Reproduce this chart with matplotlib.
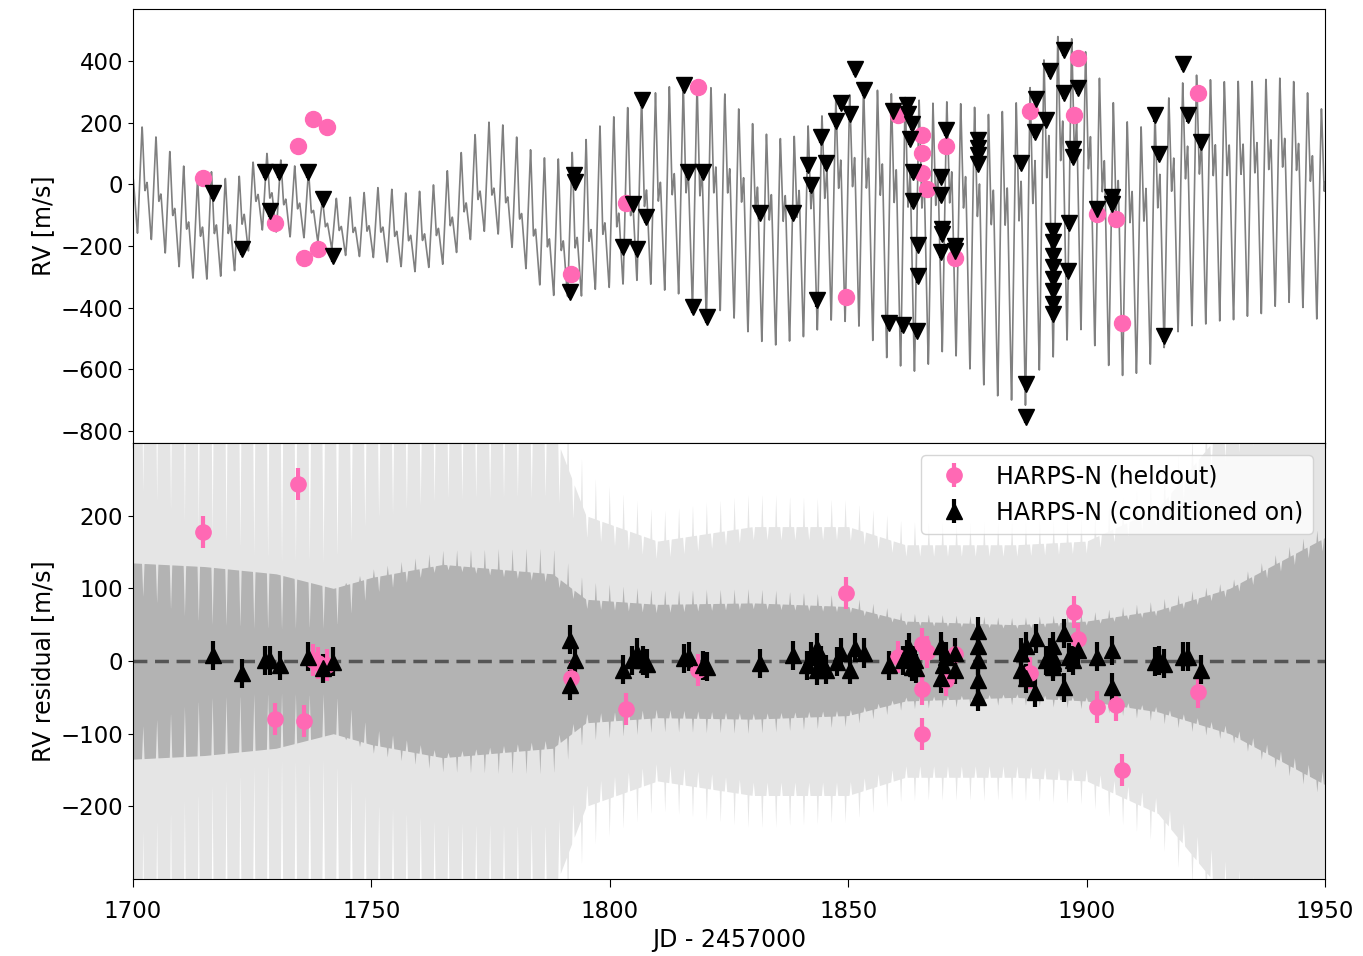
import numpy as np
import matplotlib.pyplot as plt

plt.rcParams['font.size'] = 16.5
plt.rcParams['axes.labelsize'] = 17

# ---- model curve ----
period = 2.910
t_peak0 = 1701.9

peak_t = [1702.0, 1704.8, 1707.8, 1710.5, 1713.4, 1716.5, 1719.3, 1722.0, 1725.0, 1727.9, 1730.8,
          1733.8, 1736.7, 1739.6, 1742.6, 1745.5, 1748.4, 1751.3, 1754.2, 1757.1, 1760.0, 1763.0,
          1766.0, 1769.0, 1772.0, 1774.9, 1777.6, 1780.5, 1783.7, 1786.4, 1789.4, 1792.3, 1795.0,
          1798.0, 1801.0, 1804.0, 1806.8, 1810.0, 1812.6, 1815.6, 1818.5, 1821.4, 1824.2, 1827.1,
          1830.0, 1833.0, 1835.7, 1838.6, 1841.6, 1844.5, 1847.4, 1850.3, 1853.2, 1856.2, 1859.1,
          1862.0, 1864.9, 1867.8, 1870.7, 1873.6, 1876.5, 1879.4, 1882.3, 1885.2, 1888.1, 1890.9,
          1893.8, 1896.7, 1899.7, 1902.6, 1905.5, 1908.4, 1911.3, 1914.2, 1917.2, 1920.1, 1923.0,
          1925.9, 1928.8, 1931.7, 1934.6, 1937.5, 1940.4, 1943.3, 1946.3, 1949.2]
peak_rv = [197, 165, 116, 72, 24, 52, 29, 31, 78, 110, 88,
           68, 50, -45, -40, -36, -20, -3, -8, -20, -15, 7,
           55, 117, 178, 217, 205, 166, 121, 100, 97, 121, 162,
           208, 240, 270, 300, 319, 338, 345, 338, 335, 312, 263,
           214, 179, 166, 172, 208, 240, 295, 310, 330, 328, 316,
           305, 296, 285, 290, 283, 273, 250, 260, 290, 338, 426,
           507, 500, 458, 370, 290, 225, 205, 245, 300, 350, 376,
           360, 354, 354, 354, 360, 364, 355, 316, 263]

trough_t = [1701.0, 1704.0, 1707.0, 1710.0, 1712.6, 1715.5, 1718.5, 1721.4, 1724.0, 1725.8, 1728.7,
            1731.7, 1734.6, 1737.5, 1740.0, 1744.9, 1750.0, 1756.4, 1759.4, 1762.0, 1765.0, 1768.0,
            1771.0, 1774.0, 1777.0, 1779.7, 1782.6, 1785.6, 1788.5, 1794.4, 1797.0, 1800.0, 1806.0,
            1809.0, 1811.8, 1814.5, 1817.5, 1820.4, 1823.3, 1826.0, 1829.0, 1832.0, 1834.9, 1838.0,
            1840.7, 1843.6, 1846.6, 1849.5, 1852.3, 1855.2, 1858.2, 1861.0, 1864.0, 1867.0, 1870.0,
            1872.8, 1875.8, 1878.5, 1881.4, 1884.4, 1887.3, 1890.0, 1893.0, 1896.0, 1898.8, 1901.8,
            1904.7, 1907.6, 1910.5, 1913.5, 1916.4, 1919.2, 1922.0, 1925.0, 1928.0, 1931.0, 1933.8,
            1936.7, 1939.5, 1942.4, 1945.4, 1948.4]
trough_rv = [-166, -188, -234, -280, -312, -315, -305, -286, -230, -156, -150,
             -172, -180, -175, -200, -237, -240, -273, -290, -275, -265, -225,
             -182, -156, -170, -215, -286, -340, -372, -372, -350, -345, -323,
             -340, -361, -372, -420, -458, -426, -452, -497, -530, -540, -525,
             -513, -490, -458, -465, -481, -530, -588, -614, -631, -605, -562,
             -580, -627, -676, -712, -728, -745, -631, -588, -530, -497, -549,
             -614, -644, -635, -605, -549, -500, -481, -475, -465, -460, -449,
             -440, -416, -403, -419, -458]

# height of the shoulder after each peak (fraction of peak-to-trough)
shoulder_t = [1700, 1740, 1775, 1800, 1815, 1830, 1950]
shoulder_lvl = [0.52, 0.50, 0.41, 0.40, 0.60, 0.72, 0.74]

# residual bands: half widths of inner / outer band, depth of the notches and spikes
band_t = [1700, 1715, 1730, 1742, 1750, 1765, 1788, 1795, 1810, 1830, 1850, 1862, 1885, 1900, 1915, 1930, 1950]
band_inner = [135, 130, 120, 100, 115, 133, 120, 85, 78, 80, 75, 55, 50, 55, 70, 100, 170]
band_outer = [400, 380, 330, 300, 320, 340, 320, 200, 165, 185, 185, 160, 160, 165, 210, 330, 420]
notch_inner = [0.30, 0.62, 0.65, 0.55, 0.20, 0.05, 0.10, 0.15, 0.15, 0.10, 0.10, 0.10, 0.10, 0.10, 0.10, 0.10, 0.10]
notch_outer = [0.40, 0.55, 0.60, 0.55, 0.40, 0.35, 0.30, 0.15, 0.15, 0.10, 0.10, 0.10, 0.10, 0.10, 0.10, 0.15, 0.20]
band_spike = [0.0, 0.0, 0.0, 0.0, 0.10, 0.15, 0.30, 0.30, 0.25, 0.25, 0.20, 0.20, 0.20, 0.20, 0.20, 0.10, 0.10]

# ---- HARPS-N held out points ----
t_held = [1714.7, 1729.8, 1734.7, 1735.8, 1737.8, 1738.8, 1740.7, 1791.8, 1803.5, 1818.6,
          1849.5, 1860.4, 1865.4, 1865.4, 1865.5, 1866.5, 1870.5, 1872.4,
          1888.2, 1897.4, 1898.3, 1902.2, 1906.2, 1907.4, 1923.3]
rv_held = [22, -125, 124, -240, 213, -209, 188, -292, -60, 318,
           -366, 226, 162, 103, 37, -14, 125, -240,
           238, 224, 412, -95, -112, -451, 298]
res_held = [177, -80, 244, -83, 2, -3, -6, -23, -66, -12,
            94, 6, -38, -100, 24, 13, -26, 10,
            -17, 67, 30, -63, -61, -150, -43]
err_held = 22

# ---- HARPS-N conditioned on (top panel) ----
t_cond = [1716.8, 1722.8, 1727.7, 1730.7, 1728.7, 1736.6, 1739.8, 1741.9,
          1792.5, 1792.7, 1791.7, 1802.7, 1804.8, 1805.6, 1807.6, 1806.8, 1815.6, 1816.5, 1819.5,
          1817.5, 1820.4, 1831.4, 1838.4, 1841.5, 1842.3, 1844.4, 1845.4, 1843.5, 1847.4, 1848.5,
          1850.4, 1851.4, 1853.4, 1858.6, 1861.4, 1864.4, 1859.5, 1862.3, 1862.5, 1863.3, 1863.0,
          1863.5, 1863.5, 1864.6, 1864.6, 1869.4, 1869.4, 1870.6, 1869.6, 1869.6, 1869.4, 1872.4,
          1872.4, 1877.3, 1877.3, 1877.3, 1877.3, 1886.2, 1887.2, 1887.2, 1889.4, 1889.2, 1891.5,
          1892.3, 1895.3, 1895.3, 1898.3, 1897.2, 1897.2, 1896.4, 1896.2,
          1893.0, 1893.0, 1893.0, 1893.0, 1893.0, 1893.0, 1893.0, 1893.0,
          1902.1, 1905.3, 1905.3, 1914.4, 1915.2, 1916.2, 1920.2, 1921.2, 1924.1]
rv_cond = [-27, -209, 40, 40, -87, 40, -47, -231,
           30, 8, -350, -204, -65, -209, -106, 275, 324, 40, 42,
           -397, -431, -92, -92, 62, -3, 154, 69, -377, 206, 265,
           228, 376, 308, -451, -458, -475, 240, 257, 230, 197, 149,
           40, -54, -196, -299, 24, -33, 176, -144, -160, -220, -201,
           -215, 143, 120, 95, 67, 69, -648, -756, 276, 170, 210,
           370, 438, 297, 313, 116, 89, -126, -282,
           -150, -188, -231, -269, -307, -345, -388, -420,
           -79, -41, -63, 224, 100, -491, 392, 224, 137]

# ---- residuals of the conditioned-on points (bottom panel) ----
t_cond_res = [1716.8, 1722.8, 1727.7, 1728.7, 1730.8, 1736.6, 1739.8, 1741.9,
              1791.7, 1792.7, 1791.7, 1802.7, 1804.6, 1805.8, 1807.0, 1807.7, 1815.6, 1816.7,
              1819.5, 1820.4, 1831.4, 1838.4, 1841.3, 1842.3, 1843.5, 1843.5, 1844.4, 1845.4,
              1847.6, 1848.5, 1850.4, 1851.4, 1853.4, 1858.6, 1861.4, 1862.3, 1862.8, 1863.3,
              1864.0, 1864.2, 1869.4, 1869.4, 1870.6, 1869.8, 1872.4, 1872.4,
              1877.3, 1877.3, 1877.3, 1877.3, 1877.3, 1886.2, 1886.2, 1887.2, 1887.2, 1889.4,
              1889.2, 1891.5, 1892.3, 1893.0, 1893.0, 1893.0, 1893.0, 1893.0, 1895.3, 1895.3,
              1896.4, 1897.2, 1898.3, 1902.2, 1905.3, 1905.3, 1914.4, 1915.2, 1916.2, 1920.2,
              1921.2, 1924.1]
res_cond = [8, -17, 1, 1, -6, 6, -10, -1,
            29, 1, -33, -12, 1, 11, 1, -4, 4, 6,
            -6, -8, -3, 8, -6, 6, 18, -13, 1, -12,
            -1, 11, -12, 18, 11, -6, 1, 9, 18, -8,
            1, -10, 20, -24, 6, -5, 11, -12,
            41, 20, 1, -26, -49, 11, -12, 20, -24, 31,
            -43, 1, 11, 20, -8, 0, 5, -3, 38, -36,
            5, 1, 15, 6, 15, -36, -1, 1, -4, 6,
            6, -12]
err_cond = 20

pink = '#ff69b4'

# build the model curve
grid = np.linspace(1700, 1950, 10001)
ph_fine = np.linspace(0, 1, 2000, endpoint=False)
knot_ph = [0.0, 0.2, 0.36, 0.67, 1.0]
base_shape = np.interp(ph_fine, knot_ph, [1, 0, 0, 0, 1])
shoulder_shape = np.interp(ph_fine, knot_ph, [0, 0.8, 1, 0, 0])
# light circular smoothing of the shape
k = np.exp(-0.5 * (np.fft.fftfreq(2000) * 2000 * 2 * np.pi * 0.012) ** 2)
base_shape = np.real(np.fft.ifft(np.fft.fft(base_shape) * k))
shoulder_shape = np.real(np.fft.ifft(np.fft.fft(shoulder_shape) * k))

ph = ((grid - t_peak0) / period) % 1.0
g = np.interp(ph, ph_fine, base_shape, period=1.0) + \
    np.interp(grid, shoulder_t, shoulder_lvl) * np.interp(ph, ph_fine, shoulder_shape, period=1.0)
top = np.interp(grid, peak_t, peak_rv)
bot = np.interp(grid, trough_t, trough_rv)
model = bot + (top - bot) * g


def pulse(p, center, width):
    d = np.abs(((p - center + 0.5) % 1.0) - 0.5)
    return np.clip(1 - d / width, 0, None)


notch = pulse(ph, 0.05, 0.09)
spike = np.interp(grid, band_t, band_spike) * pulse(ph, 0.67, 0.07)
h_in = np.interp(grid, band_t, band_inner) * (1 - np.interp(grid, band_t, notch_inner) * notch + spike)
h_out = np.interp(grid, band_t, band_outer) * (1 - np.interp(grid, band_t, notch_outer) * notch + spike)

fig = plt.figure(figsize=(13.63, 9.56), dpi=100)
ax1 = fig.add_axes([0.0976, 0.5366, 0.8745, 0.454])
ax2 = fig.add_axes([0.0976, 0.0805, 0.8745, 0.4561], sharex=ax1)

# top panel
ax1.plot(grid, model, color='gray', lw=1.2, zorder=1)
ax1.errorbar(t_held, rv_held, yerr=err_held, fmt='o', color=pink, ms=11.5,
             elinewidth=3, capsize=0, zorder=3)
ax1.errorbar(t_cond, rv_cond, yerr=err_cond, fmt='v', color='k', ms=12,
             elinewidth=3, capsize=0, zorder=3)
ax1.set_ylim(-840, 570)
ax1.set_yticks([-800, -600, -400, -200, 0, 200, 400])
ax1.set_ylabel('RV [m/s]')
ax1.tick_params(labelbottom=False)

# bottom panel
ax2.fill_between(grid, -h_out, h_out, color='#e5e5e5', lw=0, zorder=0)
ax2.fill_between(grid, -h_in, h_in, color='#b3b3b3', lw=0, zorder=0)
ax2.axhline(0, color='#555555', ls='--', lw=2.5, dashes=(4, 2.2), zorder=1)
ax2.errorbar(t_held, res_held, yerr=err_held, fmt='o', color=pink, ms=11,
             elinewidth=3, capsize=0, zorder=3, label='HARPS-N (heldout)')
ax2.errorbar(t_cond_res, res_cond, yerr=err_cond, fmt='^', color='k', ms=12,
             elinewidth=3, capsize=0, zorder=3, label='HARPS-N (conditioned on)')
ax2.set_ylim(-300, 300)
ax2.set_yticks([-200, -100, 0, 100, 200])
ax2.set_xlim(1700, 1950)
ax2.tick_params(axis='x', length=6, pad=9)
ax2.set_xlabel('JD - 2457000')
ax2.set_ylabel('RV residual [m/s]')
ax2.legend(loc='upper right', fontsize=17)

fig.savefig('out.png', dpi=100)
